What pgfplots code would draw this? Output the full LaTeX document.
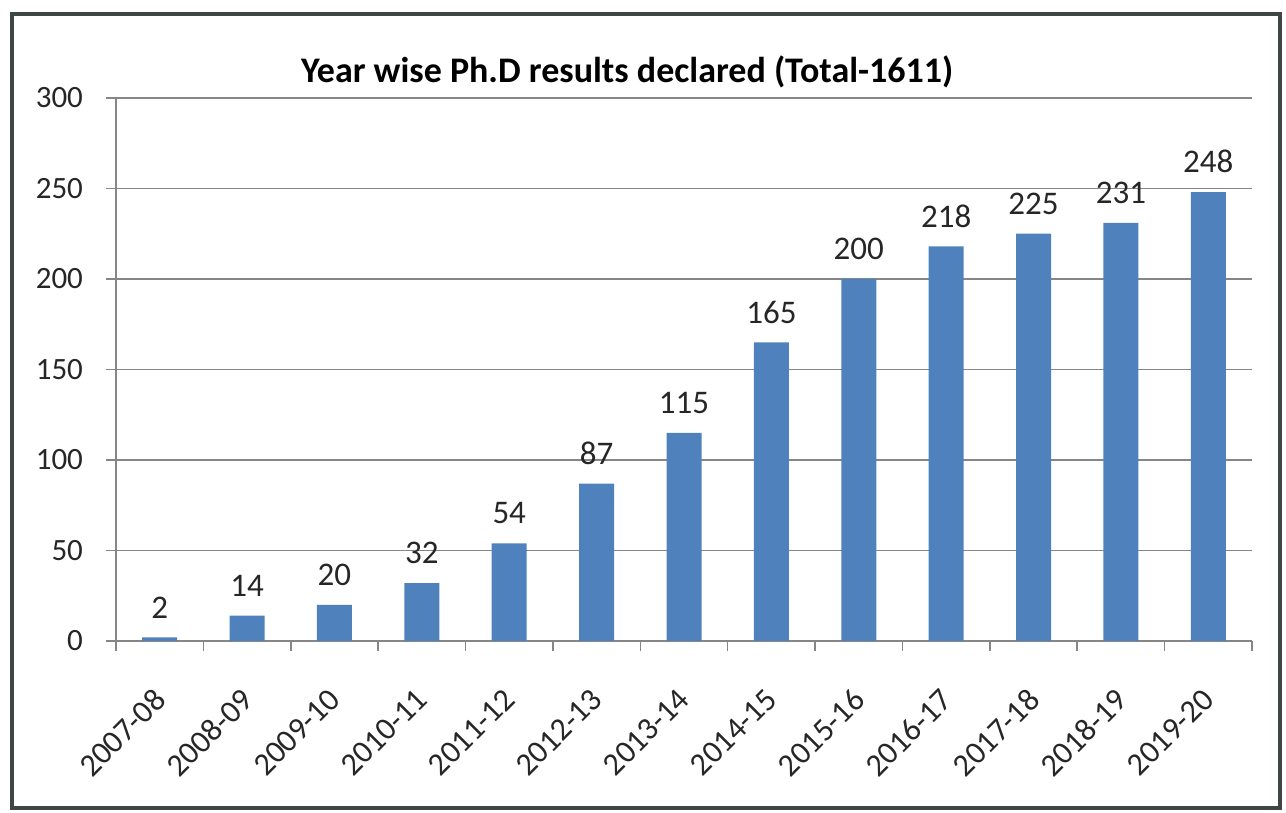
\documentclass[border=0pt]{standalone}
\usepackage{pgfplots}
\pgfplotsset{compat=1.18}
\usepackage{fontspec}
\setmainfont{Carlito}
\definecolor{barblue}{HTML}{4F81BD}
\definecolor{axgray}{HTML}{868686}
\definecolor{framec}{HTML}{3F4646}
\begin{document}
\begin{tikzpicture}
\useasboundingbox (-58pt,-86pt) rectangle (585pt,320.5pt);
\draw[framec, line width=1.6pt] (-52pt,-83.5pt) rectangle (582pt,313.5pt);
\begin{axis}[
  at={(0,0)}, anchor=south west,
  scale only axis, width=568pt, height=271.5pt,
  ybar, bar width=17.5pt, bar shift=0pt,
  xmin=-0.5, xmax=12.5, ymin=0, ymax=300,
  ytick={0,50,...,300},
  xtick={0,...,12},
  xticklabels={2007-08,2008-09,2009-10,2010-11,2011-12,2012-13,2013-14,2014-15,2015-16,2016-17,2017-18,2018-19,2019-20},
  minor xtick={-0.5,0.5,...,12.5},
  major x tick style={draw=none},
  minor x tick style={axgray, line width=0.8pt},
  y tick style={axgray, line width=0.8pt},
  major tick length=5pt, minor tick length=5pt,
  tick align=outside,
  axis x line*=bottom, axis y line*=left,
  axis line style={axgray, line width=0.8pt, -},
  ymajorgrids, grid style={axgray, line width=0.8pt},
  yticklabel style={font=\fontsize{15.5}{18}\selectfont, text=black!85, xshift=-8pt},
  xticklabel style={font=\fontsize{16}{19}\selectfont, text=black!85, xshift=-3.7pt, yshift=-13pt, rotate=45, anchor=north east},
  /pgf/number format/assume math mode=true,
  nodes near coords,
  every node near coord/.append style={font=\fontsize{16.5}{19}\selectfont, text=black!85, yshift=6pt},
  clip=false,
]
\addplot[fill=barblue, draw=none] coordinates {
(0,2) (1,14) (2,20) (3,32) (4,54) (5,87) (6,115) (7,165) (8,200) (9,218) (10,225) (11,231) (12,248)};
\node[font=\fontsize{18}{22}\selectfont\bfseries] at (rel axis cs:0.45,1.048) {Year wise Ph.D results declared (Total-1611)};
\end{axis}
\end{tikzpicture}
\end{document}
